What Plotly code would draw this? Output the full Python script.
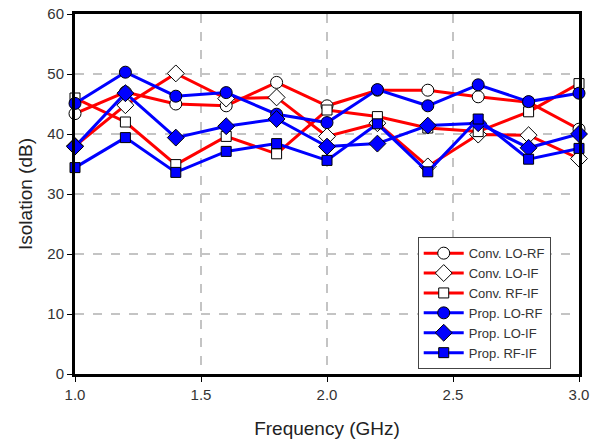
import plotly.graph_objects as go

freq = [1.0, 1.2, 1.4, 1.6, 1.8, 2.0, 2.2, 2.4, 2.6, 2.8, 3.0]

conv_lo_rf = [43.4, 47.0, 45.0, 44.7, 48.6, 44.7, 47.3, 47.3, 46.2, 45.3, 40.8]
conv_lo_if = [38.0, 44.8, 50.1, 45.9, 46.1, 39.6, 41.8, 34.6, 39.9, 39.8, 35.9]
conv_rf_if = [46.0, 42.0, 34.9, 39.6, 36.7, 44.0, 42.9, 41.0, 40.4, 43.7, 48.4]
prop_lo_rf = [45.1, 50.3, 46.3, 46.9, 43.3, 41.9, 47.4, 44.7, 48.2, 45.4, 46.8]
prop_lo_if = [37.9, 46.8, 39.4, 41.3, 42.5, 37.9, 38.4, 41.4, 41.8, 37.7, 40.0]
prop_rf_if = [34.4, 39.4, 33.6, 37.1, 38.4, 35.6, 41.7, 33.7, 42.5, 35.8, 37.6]

series = [
    ("Conv. LO-RF", conv_lo_rf, "#ff0000", "circle", "white", 12),
    ("Conv. LO-IF", conv_lo_if, "#ff0000", "diamond", "white", 13),
    ("Conv. RF-IF", conv_rf_if, "#ff0000", "square", "white", 10),
    ("Prop. LO-RF", prop_lo_rf, "#0000ff", "circle", "#0000ff", 12),
    ("Prop. LO-IF", prop_lo_if, "#0000ff", "diamond", "#0000ff", 13),
    ("Prop. RF-IF", prop_rf_if, "#0000ff", "square", "#0000ff", 10),
]

fig = go.Figure()
for name, vals, lc, sym, fc, sz in series:
    fig.add_trace(go.Scatter(
        x=freq, y=vals, name=name, mode="lines+markers",
        line=dict(color=lc, width=3),
        marker=dict(symbol=sym, size=sz, color=fc, line=dict(color="black", width=1)),
        cliponaxis=False,
    ))

axis_common = dict(
    showline=True, linewidth=3, linecolor="black", mirror=True,
    showgrid=True, gridcolor="#c4c4c4", gridwidth=1.5, griddash="dash",
    zeroline=False, ticks="outside", ticklen=5, tickcolor="black", tickwidth=1,
    tickfont=dict(family="Arial, Liberation Sans", size=15, color="#333333"),
    automargin=False,
)

fig.update_layout(
    width=592, height=447,
    margin=dict(l=75, r=13, t=14, b=73),
    paper_bgcolor="white", plot_bgcolor="white",
    font=dict(family="Arial, Liberation Sans", color="#222222"),
    xaxis=dict(range=[1.0, 3.0], tickvals=[1.0, 1.5, 2.0, 2.5, 3.0],
               ticktext=["1.0", "1.5", "2.0", "2.5", "3.0"],
               title=dict(text="Frequency (GHz)", font=dict(size=19, color="#222222"), standoff=20),
               **axis_common),
    yaxis=dict(range=[0, 60], tickvals=[0, 10, 20, 30, 40, 50, 60],
               title=dict(text="Isolation (dB)", font=dict(size=19, color="#222222"), standoff=10),
               **axis_common),
    legend=dict(x=0.68, y=0.38, xanchor="left", yanchor="top",
                bgcolor="white", bordercolor="#444444", borderwidth=1,
                font=dict(family="Arial, Liberation Sans", size=13, color="#333333"),
                tracegroupgap=0, itemwidth=40),
    showlegend=True,
)

fig.write_html("out.html")
